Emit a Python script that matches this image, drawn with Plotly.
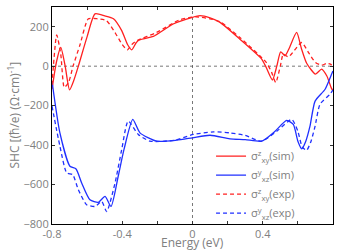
import plotly.graph_objects as go

# Red solid: sigma^z_xy (sim)
xy_sim_x = [-0.80, -0.775, -0.75, -0.725, -0.70, -0.675, -0.65, -0.60, -0.555, -0.50, -0.45, -0.403, -0.370, -0.346, -0.320, -0.30, -0.223, -0.11, 0.0, 0.043, 0.10, 0.157, 0.27, 0.394, 0.42, 0.455, 0.480, 0.502, 0.527, 0.55, 0.593, 0.62, 0.65, 0.70, 0.735, 0.765, 0.79, 0.80]
xy_sim_y = [-117, 20, 95, 0, -120, -70, 0, 150, 265, 255, 240, 180, 110, 83, 120, 134, 151, 214, 248, 256, 245, 222, 137, 36, -7, -70, 0, 73, 53, 90, 171, 90, 15, -40, -15, -50, -110, -125]

# Red dashed: sigma^z_xy (exp)
xy_exp_x = [-0.80, -0.773, -0.75, -0.73, -0.705, -0.68, -0.64, -0.593, -0.54, -0.49, -0.43, -0.40, -0.371, -0.345, -0.318, -0.204, -0.071, 0.02, 0.10, 0.157, 0.27, 0.42, 0.45, 0.474, 0.50, 0.517, 0.546, 0.58, 0.622, 0.66, 0.70, 0.735, 0.764, 0.785, 0.80]
xy_exp_y = [-95, 158, 60, -108, -80, 0, 110, 240, 240, 231, 154, 110, 83, 110, 129, 171, 236, 250, 240, 225, 145, 19, -30, -83, 0, 61, 47, 80, 120, 70, 19, 5, 14, 10, 0]

# Blue solid: sigma^y_xz (sim)
xz_sim_x = [-0.80, -0.755, -0.698, -0.663, -0.631, -0.584, -0.536, -0.498, -0.464, -0.423, -0.39, -0.34, -0.299, -0.204, -0.09, 0.0, 0.10, 0.213, 0.30, 0.394, 0.47, 0.536, 0.574, 0.60, 0.622, 0.645, 0.669, 0.698, 0.755, 0.796, 0.80]
xz_sim_y = [-75, -338, -507, -521, -592, -677, -690, -660, -711, -558, -422, -270, -338, -380, -375, -363, -350, -368, -372, -380, -330, -275, -295, -380, -419, -380, -304, -177, -117, -32, -25]

# Blue dashed: sigma^y_xz (exp)
xz_exp_x = [-0.80, -0.755, -0.716, -0.682, -0.65, -0.603, -0.555, -0.517, -0.489, -0.441, -0.403, -0.366, -0.309, -0.242, -0.10, 0.005, 0.12, 0.213, 0.30, 0.394, 0.48, 0.565, 0.60, 0.625, 0.65, 0.675, 0.698, 0.726, 0.783, 0.80]
xz_exp_y = [-202, -405, -541, -550, -626, -702, -711, -686, -737, -592, -422, -278, -346, -380, -375, -346, -333, -338, -351, -380, -330, -270, -330, -410, -426, -380, -304, -193, -142, -120]

x_ticks = [-0.8, -0.6, -0.4, -0.2, 0, 0.2, 0.4, 0.6, 0.8]
x_ticktext = ["-0.8", "", "-0.4", "", "0", "", "0.4", "", "0.8"]
y_ticks = [-800, -600, -400, -200, 0, 200]

RED = "#ff2020"
BLUE = "#1f2fff"
GRAY = "#808080"
FONT = "Open Sans"

fig = go.Figure()
common_line = dict(width=1.3, shape="spline", smoothing=0.6)
fig.add_trace(go.Scatter(x=xy_sim_x, y=xy_sim_y, mode="lines", line=dict(color=RED, **common_line),
                         name="σ<sup>z</sup><sub>xy</sub>(sim)"))
fig.add_trace(go.Scatter(x=xz_sim_x, y=xz_sim_y, mode="lines", line=dict(color=BLUE, **common_line),
                         name="σ<sup>y</sup><sub>xz</sub>(sim)"))
fig.add_trace(go.Scatter(x=xy_exp_x, y=xy_exp_y, mode="lines", line=dict(color=RED, dash="4px,3px", **common_line),
                         name="σ<sup>z</sup><sub>xy</sub>(exp)"))
fig.add_trace(go.Scatter(x=xz_exp_x, y=xz_exp_y, mode="lines", line=dict(color=BLUE, dash="4px,3px", **common_line),
                         name="σ<sup>y</sup><sub>xz</sub>(exp)"))

fig.add_shape(type="line", x0=0, x1=0, y0=-800, y1=300, xref="x", yref="y",
              line=dict(color="#555555", width=0.8, dash="dot"), layer="below")
fig.add_shape(type="line", x0=-0.8, x1=0.8, y0=0, y1=0, xref="x", yref="y",
              line=dict(color="#555555", width=0.8, dash="dot"), layer="below")

axis_common = dict(showgrid=False, zeroline=False, showline=True, linecolor="black", linewidth=1.2,
                   mirror="ticks", ticks="inside", ticklen=3, tickcolor="#333333", automargin=False,
                   tickfont=dict(family=FONT, size=11, color=GRAY))

fig.update_layout(
    width=338, height=251,
    margin=dict(l=52, r=5, t=7, b=27),
    paper_bgcolor="white", plot_bgcolor="white",
    xaxis=dict(range=[-0.8, 0.8], tickvals=x_ticks, ticktext=x_ticktext, ticklabelstandoff=0, **axis_common),
    yaxis=dict(range=[-800, 300], tickvals=y_ticks, **axis_common),
    legend=dict(x=0.566, y=0.38, xanchor="left", yanchor="top", bgcolor="rgba(0,0,0,0)",
                font=dict(family=FONT, size=11, color=GRAY), tracegroupgap=0, itemwidth=30),
    showlegend=True,
    annotations=[
        dict(text="Energy (eV)", x=0.5, y=0, xref="paper", yref="paper", xanchor="center", yanchor="middle",
             yshift=-18, borderpad=0, showarrow=False, font=dict(family=FONT, size=12, color=GRAY)),
        dict(text="SHC [(ħ/e) (Ω·cm)<sup>-1</sup>]", x=0, y=0.5, xref="paper", yref="paper",
             xanchor="center", yanchor="middle", xshift=-39, textangle=-90, showarrow=False,
             font=dict(family=FONT, size=12, color=GRAY)),
    ],
)

fig.write_html("out.html", config={"displayModeBar": False},
               post_script="document.body.style.margin='0';document.body.style.overflow='hidden';")
